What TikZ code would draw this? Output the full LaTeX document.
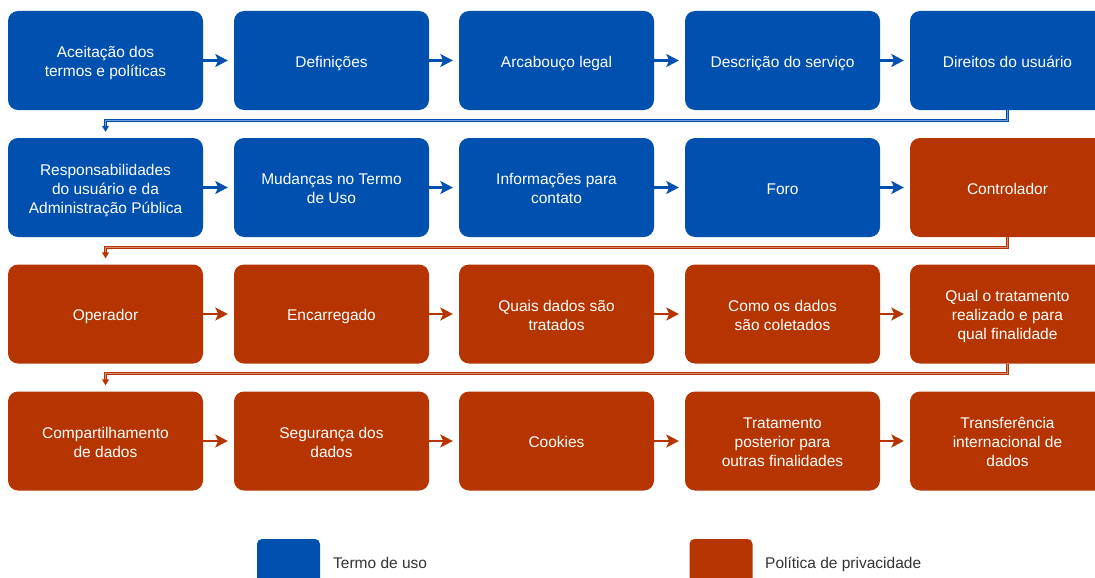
\documentclass[tikz,border=0pt]{standalone}
\usepackage{fontspec}
\setmainfont{Liberation Sans}
\usetikzlibrary{arrows.meta,calc}
\definecolor{tblue}{RGB}{0,80,175}
\definecolor{tred}{RGB}{181,52,0}
\definecolor{lgray}{RGB}{51,51,51}
\newcommand{\FL}{\rule{0pt}{17.5pt}}
\begin{document}
\begin{tikzpicture}[x=1pt,y=-1pt,
  blk/.style={rounded corners=10pt, minimum width=195pt, minimum height=99pt, inner sep=0pt,
    text=white, align=center, font=\fontsize{15.5}{19}\selectfont,
    execute at end node={\rule[-4.5pt]{0pt}{4.5pt}}},
  tu/.style={blk, fill=tblue},
  pp/.style={blk, fill=tred},
  harrow/.style={line width=2.3pt, -{Stealth[length=12.5pt,width=13pt,inset=3pt]}, shorten >=6pt},
  conn/.style={line width=1.1pt, double distance=1.1pt, -{Triangle[length=6pt,width=7pt]}, shorten >=6pt},
  legbox/.style={rounded corners=5pt, minimum width=63pt, minimum height=50pt, inner sep=0pt},
  legtxt/.style={anchor=base west, inner sep=0pt, text=lgray, font=\fontsize{15.5}{19}\selectfont}
]
\useasboundingbox (0,0) rectangle (1095,578);
\clip (0,0) rectangle (1095,578);

% row 1
\node[tu] (b1) at (105.5,60.5) {\FL Aceitação dos\\termos e políticas};
\node[tu] (b2) at (331.5,60.5) {\FL Definições};
\node[tu] (b3) at (556.5,60.5) {\FL Arcabouço legal};
\node[tu] (b4) at (782.5,60.5) {\FL Descrição do serviço};
\node[tu] (b5) at (1007.5,60.5) {\FL Direitos do usuário};
% row 2
\node[tu] (b6) at (105.5,187.5) {\FL Responsabilidades\\do usuário e da\\Administração Pública};
\node[tu] (b7) at (331.5,187.5) {\FL Mudanças no Termo\\de Uso};
\node[tu] (b8) at (556.5,187.5) {\FL Informações para\\contato};
\node[tu] (b9) at (782.5,187.5) {\FL Foro};
\node[pp] (b10) at (1007.5,187.5) {\FL Controlador};
% row 3
\node[pp] (b11) at (105.5,314) {\FL Operador};
\node[pp] (b12) at (331.5,314) {\FL Encarregado};
\node[pp] (b13) at (556.5,314) {\FL Quais dados são\\tratados};
\node[pp] (b14) at (782.5,314) {\FL Como os dados\\são coletados};
\node[pp] (b15) at (1007.5,314) {\FL Qual o tratamento\\realizado e para\\qual finalidade};
% row 4
\node[pp] (b16) at (105.5,441) {\FL Compartilhamento\\de dados};
\node[pp] (b17) at (331.5,441) {\FL Segurança dos\\dados};
\node[pp] (b18) at (556.5,441) {\FL Cookies};
\node[pp] (b19) at (782.5,441) {\FL Tratamento\\posterior para\\outras finalidades};
\node[pp] (b20) at (1007.5,441) {\FL Transferência\\internacional de\\dados};

% horizontal arrows
\foreach \a/\b/\c in {b1/b2/tblue,b2/b3/tblue,b3/b4/tblue,b4/b5/tblue,
                      b6/b7/tblue,b7/b8/tblue,b8/b9/tblue,b9/b10/tblue,
                      b11/b12/tred,b12/b13/tred,b13/b14/tred,b14/b15/tred,
                      b16/b17/tred,b17/b18/tred,b18/b19/tred,b19/b20/tred}
  \draw[harrow, draw=\c] (\a.east) -- (\b.west);

% row connectors
\draw[conn, draw=tblue, double=tblue!55] (b5.south) -- ++(0,10) -| (b6.north);
\draw[conn, draw=tred, double=tred!55] (b10.south) -- ++(0,10) -| (b11.north);
\draw[conn, draw=tred, double=tred!55] (b15.south) -- ++(0,10) -| (b16.north);

% legend
\node[legbox, fill=tblue] (lt) at (288.5,564) {};
\node[legtxt] (ltt) at (333,568) {Termo de uso};
\node[legbox, fill=tred] (lp) at (721,564) {};
\node[legtxt] (lpt) at (765,568) {Política de privacidade};
\end{tikzpicture}
\end{document}
